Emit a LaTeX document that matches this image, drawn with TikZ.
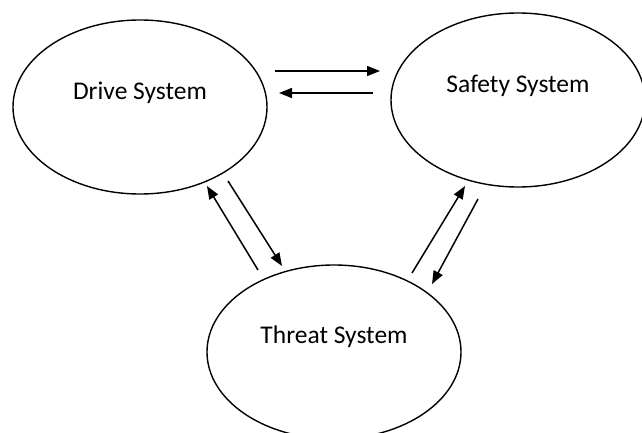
\documentclass[tikz,border=0pt]{standalone}
\usepackage{fontspec}
\setmainfont{Carlito}
\usetikzlibrary{shapes.geometric,arrows.meta}
\tikzset{
    sys/.style={ellipse, draw=black, line width=1.4pt, minimum width=254pt, minimum height=174pt, inner sep=0pt},
    sysname/.style={font=\fontsize{25.5}{30}\selectfont},
    link/.style={-{Triangle[length=13pt,width=10pt]}, line width=1.5pt}
}

\begin{document}
\begin{tikzpicture}[x=1pt,y=-1pt]

    \useasboundingbox (0,0) rectangle (642,433);
    \clip (0,0) rectangle (642,433);

    % The three systems
    \node[sys, label={[sysname, yshift=14pt]center:Drive System}] (drive) at (140,107) {};
    \node[sys, label={[sysname, yshift=14pt]center:Safety System}] (safety) at (518,100) {};
    \node[sys, label={[sysname, yshift=15pt]center:Threat System}] (threat) at (334,352) {};

    % Arrow ends
    \coordinate (ds1) at (275,71);
    \coordinate (sd1) at (380,71);
    \coordinate (sd2) at (373,93);
    \coordinate (ds2) at (279,93);
    \coordinate (td1) at (258,270);
    \coordinate (dt1) at (207,186);
    \coordinate (dt2) at (228,181);
    \coordinate (td2) at (282,266);
    \coordinate (ts1) at (412,273);
    \coordinate (st1) at (465,186);
    \coordinate (st2) at (478,199);
    \coordinate (ts2) at (432,284);

    % Arrows between the systems
    \draw[link] (ds1) -- (sd1);
    \draw[link] (sd2) -- (ds2);
    \draw[link] (td1) -- (dt1);
    \draw[link] (dt2) -- (td2);
    \draw[link] (ts1) -- (st1);
    \draw[link] (st2) -- (ts2);

\end{tikzpicture}
\end{document}
